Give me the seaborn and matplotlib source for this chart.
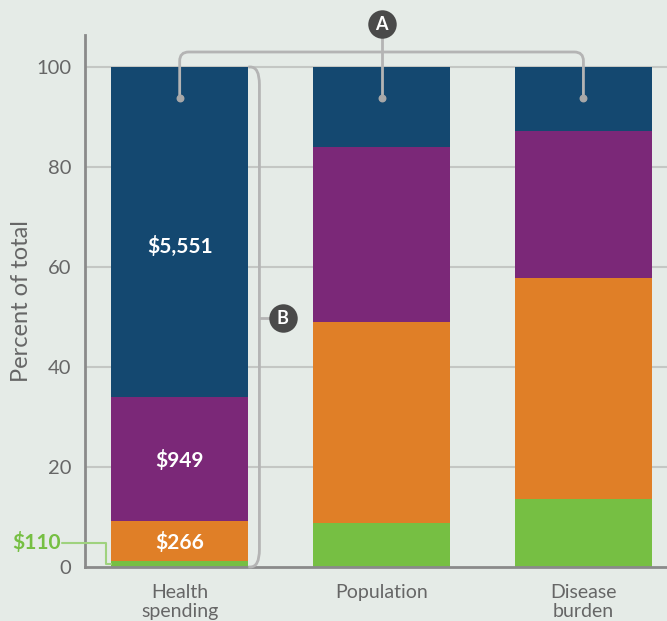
import numpy as np
import pandas as pd
import matplotlib
matplotlib.use("Agg")
import matplotlib.pyplot as plt
from matplotlib.path import Path
from matplotlib.patches import PathPatch
import seaborn as sns

categories = ["Health\nspending", "Population", "Disease\nburden"]
series_names = ["Green", "Orange", "Purple", "Navy"]
green = [1.2, 8.8, 13.6]
orange = [8.0, 40.2, 44.2]
purple = [24.8, 35.0, 29.4]
navy = [66.0, 16.0, 12.8]
colors = ["#76bf43", "#e07f27", "#7b2878", "#144870"]
spend_labels = ["$110", "$266", "$949", "$5,551"]
yticks = [0, 20, 40, 60, 80, 100]

BG = "#e5ebe7"
sns.set_theme(style="white")
plt.rcParams["font.family"] = ["Lato", "DejaVu Sans"]

fig = plt.figure(figsize=(6.67, 6.21), dpi=100, facecolor=BG)
ax = fig.add_axes([85 / 667, 54 / 621, 1 - 85 / 667, (567 - 35) / 621])
ax.set_facecolor(BG)

segs = np.array([green, orange, purple, navy])
cum = np.cumsum(segs, axis=0)
df = pd.DataFrame({"cat": categories})
for i in range(3, -1, -1):
    df["top"] = cum[i]
    sns.barplot(data=df, x="cat", y="top", color=colors[i], width=0.68,
                saturation=1, ax=ax, zorder=3, edgecolor="none", linewidth=0)

ax.set_xlim(-0.469, 2.414)
ax.set_ylim(0, 106.4)
ax.set_yticks(yticks)
ax.set_yticklabels([str(t) for t in yticks])
for t in yticks[1:]:
    ax.axhline(t, color="#c4c7c4", lw=1.5, zorder=1)
for s in ["top", "right"]:
    ax.spines[s].set_visible(False)
for s in ["left", "bottom"]:
    ax.spines[s].set_color("#8a8a8a")
    ax.spines[s].set_linewidth(2)
    ax.spines[s].set_zorder(5)
ax.tick_params(axis="both", length=0, colors="#666666")
ax.tick_params(axis="y", pad=10, labelsize=14.5)
ax.tick_params(axis="x", pad=12, labelsize=14)
ax.set_xlabel("")
ax.set_ylabel("Percent of total", fontsize=17, color="#666666")
ax.yaxis.label.set_verticalalignment("center")
ax.yaxis.set_label_coords(-(85 - 22) / 582, 0.5)
for lab in ax.get_xticklabels():
    lab.set_linespacing(1.2)

# in-bar labels for health spending
ax.text(0, 4.8, spend_labels[1], ha="center", va="center", color="white",
        fontsize=15, fontweight="bold", zorder=6)
ax.text(0, 21.4, spend_labels[2], ha="center", va="center", color="white",
        fontsize=15, fontweight="bold", zorder=6)
ax.text(0, 64.2, spend_labels[3], ha="center", va="center", color="white",
        fontsize=15, fontweight="bold", zorder=6)

# $110 callout
gc = "#76bf43"
ax.text(-0.707, 4.8, spend_labels[0], ha="center", va="center", color=gc,
        fontsize=15, fontweight="bold", clip_on=False, zorder=6)
ax.plot([-0.583, -0.365, -0.365, -0.34], [4.8, 4.8, 0.6, 0.6], color="#9fd27e",
        lw=1.5, clip_on=False, zorder=6)

lc = "#b4b4b4"
rx, ry = 0.045, 1.8

def rounded(pts, radius_x=rx, radius_y=ry):
    verts, codes = [pts[0]], [Path.MOVETO]
    for k in range(1, len(pts) - 1):
        p0, p1, p2 = np.array(pts[k - 1]), np.array(pts[k]), np.array(pts[k + 1])
        d0 = p1 - p0
        d1 = p2 - p1
        u0 = np.sign(d0) * np.array([radius_x, radius_y])
        u1 = np.sign(d1) * np.array([radius_x, radius_y])
        a = p1 - u0 * (np.abs(np.sign(d0)))
        b = p1 + u1 * (np.abs(np.sign(d1)))
        verts += [tuple(a), tuple(p1), tuple(b)]
        codes += [Path.LINETO, Path.CURVE3, Path.CURVE3]
    verts.append(pts[-1]); codes.append(Path.LINETO)
    return Path(verts, codes)

# bracket A
ytopA = 103.0
ydot = 93.8
pA = rounded([(0, ydot), (0, ytopA), (2, ytopA), (2, ydot)])
ax.add_patch(PathPatch(pA, fill=False, edgecolor=lc, lw=2, clip_on=False, zorder=7))
ax.plot([1, 1], [108.6, ydot], color=lc, lw=2, clip_on=False, zorder=7)
ax.scatter([0, 1, 2], [ydot] * 3, s=22, color="#a8a8a8", zorder=8, clip_on=False)
ax.scatter([1], [108.6], s=420, color="#4a4a4a", zorder=9, clip_on=False, linewidths=0)
ax.text(1, 108.6, "A", ha="center", va="center", color="white", fontsize=13,
        fontweight="bold", zorder=10, clip_on=False)

# bracket B
pB = rounded([(0.34, 100), (0.395, 100), (0.395, 0), (0.34, 0)], rx, 3.5)
ax.add_patch(PathPatch(pB, fill=False, edgecolor=lc, lw=2, clip_on=False, zorder=7))
ax.plot([0.395, 0.5], [49.8, 49.8], color=lc, lw=2, zorder=7)
ax.scatter([0.511], [49.8], s=420, color="#4a4a4a", zorder=9, linewidths=0)
ax.text(0.511, 49.8, "B", ha="center", va="center", color="white", fontsize=13,
        fontweight="bold", zorder=10)

fig.savefig("out.png", dpi=100, facecolor=BG)
